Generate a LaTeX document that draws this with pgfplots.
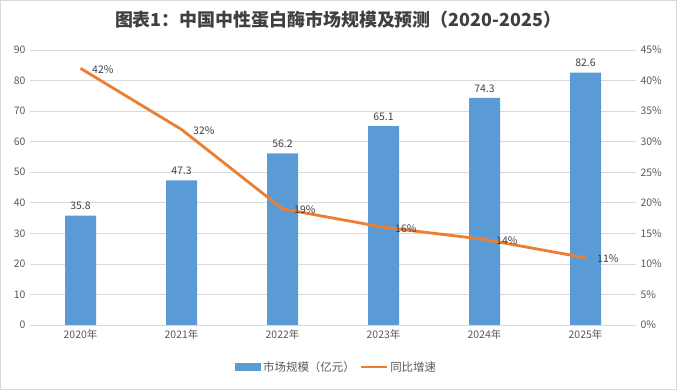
\documentclass[border=0pt]{standalone}
\usepackage{pgfplots}
\pgfplotsset{compat=1.18}
\usepackage{fontspec}
\setmainfont{Noto Sans CJK SC}
\definecolor{barblue}{HTML}{5B9BD5}
\definecolor{lineorange}{HTML}{ED7D31}
\definecolor{txt}{HTML}{595959}
\definecolor{lbl}{HTML}{404040}
\definecolor{gridc}{HTML}{D9D9D9}
\begin{document}
\begin{tikzpicture}
\pgfplotsset{every axis/.append style={
  scale only axis, width=606bp, height=275bp,
  xmin=-0.5, xmax=5.5, ymin=0,
  font=\fontsize{10.5}{12}\selectfont,
  tick label style={text=txt, font=\fontsize{10.5}{12}\selectfont},
  /pgf/number format/assume math mode=true,
  axis line style={draw=none},
  major tick length=0pt,
}}
\begin{axis}[at={(0,0)}, anchor=south west,
  ymax=90, ytick={0,10,...,90},
  ymajorgrids, grid style={gridc, line width=0.6bp},
  xtick={0,1,2,3,4,5},
  xticklabels={2020年,2021年,2022年,2023年,2024年,2025年},
  xticklabel style={yshift=-1bp},
  yticklabel style={xshift=-1bp},
  legend style={at={(0.506,-0.153)}, anchor=center, draw=none, fill=none,
    legend columns=2, font=\fontsize{11.5}{13}\selectfont, text=txt,
    /tikz/every even column/.append style={column sep=3bp}},
]
\addplot[ybar, bar width=31bp, fill=barblue, draw=none,
  nodes near coords, every node near coord/.append style={text=lbl, yshift=2bp, font=\fontsize{10.5}{12}\selectfont},
  legend image code/.code={\fill[barblue] (0bp,-4bp) rectangle (26bp,4bp);}]
  coordinates {(0,35.8) (1,47.3) (2,56.2) (3,65.1) (4,74.3) (5,82.6)};
\addlegendentry{市场规模（亿元）}
\addlegendimage{lineorange, line width=2.5bp, legend image code/.code={\draw[lineorange, line width=2.5bp] (0bp,0bp) -- (26bp,0bp);}}
\addlegendentry{同比增速}
\end{axis}
\begin{axis}[at={(0,0)}, anchor=south west,
  ymax=45, ytick={0,5,...,45},
  axis y line*=right, axis x line=none,
  yticklabel={\pgfmathprintnumber{\tick}\%},
  yticklabel style={xshift=1bp},
]
\addplot[lineorange, line width=2.8bp, no markers,
  nodes near coords={\pgfmathprintnumber{\pgfplotspointmeta}\%},
  every node near coord/.append style={text=lbl, anchor=west, xshift=7bp, yshift=-1bp, font=\fontsize{10.5}{12}\selectfont}]
  coordinates {(0,42) (1,32) (2,19) (3,16) (4,14) (5,11)};
\end{axis}
\node[font=\fontsize{18}{21}\selectfont\bfseries, text=lbl] at (308bp,305bp) {图表1：中国中性蛋白酶市场规模及预测（2020-2025）};
\draw[gridc, line width=0.6bp] (-29.5bp,-64.5bp) rectangle (646.5bp,324.5bp);
\path[use as bounding box] (-30bp,-65bp) rectangle (647bp,325bp);
\end{tikzpicture}
\end{document}
